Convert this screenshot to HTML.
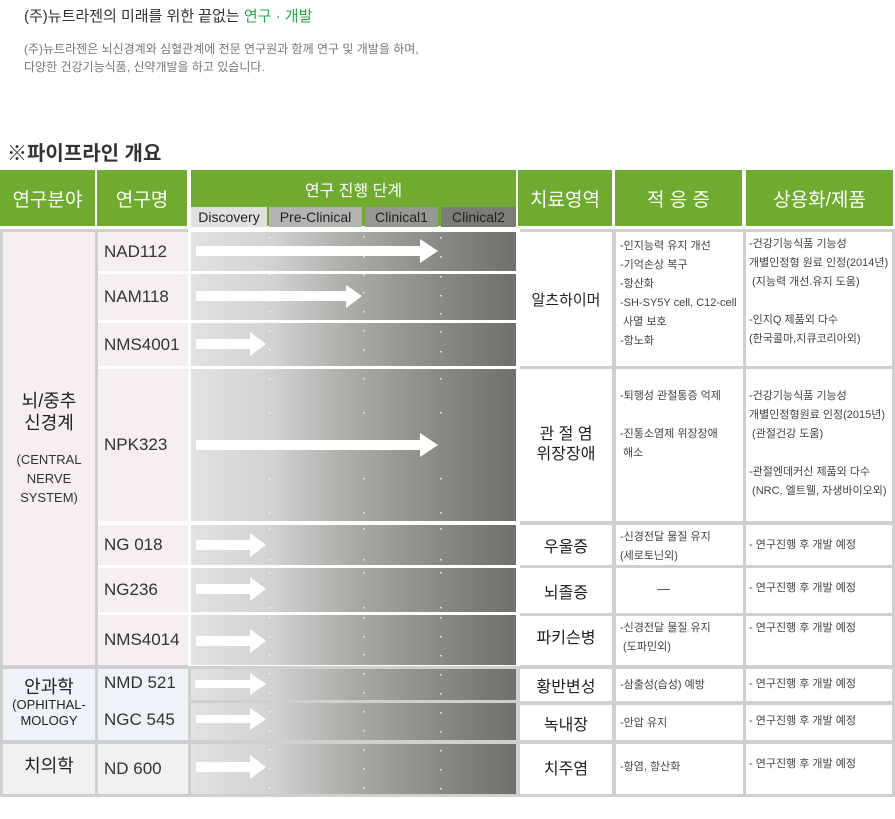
<!DOCTYPE html>
<html><head><meta charset="utf-8">
<style>
*{margin:0;padding:0;box-sizing:border-box}
body{width:895px;height:819px;background:#fff;position:relative;overflow:hidden;font-family:"Liberation Sans","Noto Sans CJK KR","NanumGothic",sans-serif;color:#333}
.a{position:absolute}
.c{position:absolute;display:flex;align-items:center;justify-content:center;text-align:center}
.g{background:#6eab2e;color:#fff;font-size:19px}
.sub{font-size:14px;color:#222}
.nm{font-size:17px;color:#333;justify-content:flex-start;padding-left:6px}
.pk{background:#f6eeef}
.bl{background:#eef3fa}
.gr{background:#f1f1f1}
.w{background:#fff}
.d{font-size:18px;color:#222}
.t{position:absolute;font-size:11px;line-height:19px;color:#444;white-space:nowrap}
.stage{position:absolute;left:191px;width:325px;background:linear-gradient(to right,#e2e2e2 0%,#d2d2d1 25%,#a9aaa6 50%,#8a8b86 75%,#6e706a 100%)}
.dot{position:absolute;width:2px;height:2px;background:#fff}
</style></head><body>
<div class="a" style="left:24px;top:5px;font-size:15px;color:#333">(주)뉴트라젠의 미래를 위한 끝없는 <span style="color:#1faa4a">연구 · 개발</span></div>
<div class="a" style="left:24px;top:40px;font-size:12px;line-height:18px;color:#777">(주)뉴트라젠은 뇌신경계와 심혈관계에 전문 연구원과 함께 연구 및 개발을 하며,<br>다양한 건강기능식품, 신약개발을 하고 있습니다.</div>
<div class="a" style="left:7px;top:137px;font-size:20px;font-weight:bold;color:#333">※파이프라인 개요</div>

<!-- header -->
<div class="c g" style="left:0;top:170px;width:95px;height:56px">연구분야</div>
<div class="c g" style="left:97px;top:170px;width:90px;height:56px">연구명</div>
<div class="c g" style="left:191px;top:170px;width:325px;height:37px;font-size:16px">연구 진행 단계</div>
<div class="a" style="left:191px;top:207px;width:325px;height:19px;background:#6eab2e"></div>
<div class="c sub" style="left:191px;top:207px;width:76px;height:20px;background:#e0e0e0">Discovery</div>
<div class="c sub" style="left:269px;top:207px;width:93px;height:20px;background:#b4b5b2">Pre-Clinical</div>
<div class="c sub" style="left:365px;top:207px;width:73px;height:20px;background:#979894">Clinical1</div>
<div class="c sub" style="left:441px;top:207px;width:75px;height:20px;background:#7b7c77">Clinical2</div>
<div class="c g" style="left:518px;top:170px;width:94px;height:56px">치료영역</div>
<div class="c g" style="left:615px;top:170px;width:127px;height:56px">적 응 증</div>
<div class="c g" style="left:746px;top:170px;width:147px;height:56px">상용화/제품</div>

<!-- body bg -->
<div class="a" style="left:0;top:229px;width:895px;height:568px;background:#cfcfcf"></div>

<!-- col1 -->
<div class="c pk d" style="left:3px;top:232px;width:92px;height:433px;flex-direction:column;line-height:22px">뇌/중추<br>신경계<div style="font-size:13px;line-height:19px;margin-top:16px;color:#333">(CENTRAL<br>NERVE<br>SYSTEM)</div></div>
<div class="c bl d" style="left:3px;top:669px;width:92px;height:71px;flex-direction:column;line-height:20px;padding-bottom:4px">안과학<div style="font-size:13px;line-height:16px">(OPHITHAL-<br>MOLOGY</div></div>
<div class="c gr d" style="left:3px;top:744px;width:92px;height:50px;padding-bottom:8px">치의학</div>

<!-- col2 -->
<div class="a" style="left:98px;top:232px;width:93px;height:433px;background:#fff"></div>
<div class="c pk nm" style="left:98px;top:232px;width:90px;height:39px">NAD112</div>
<div class="c pk nm" style="left:98px;top:274px;width:90px;height:46px">NAM118</div>
<div class="c pk nm" style="left:98px;top:323px;width:90px;height:43px">NMS4001</div>
<div class="c pk nm" style="left:98px;top:369px;width:90px;height:152px">NPK323</div>
<div class="c pk nm" style="left:98px;top:525px;width:90px;height:40px">NG 018</div>
<div class="c pk nm" style="left:98px;top:568px;width:90px;height:44px">NG236</div>
<div class="c pk nm" style="left:98px;top:615px;width:90px;height:50px">NMS4014</div>
<div class="c bl nm" style="left:98px;top:669px;width:90px;height:71px"></div>
<div class="a" style="left:104px;top:673px;font-size:17px">NMD 521</div>
<div class="a" style="left:104px;top:710px;font-size:17px">NGC 545</div>
<div class="c gr nm" style="left:98px;top:744px;width:90px;height:50px">ND 600</div>

<!-- col3 stages -->
<div class="a" style="left:188px;top:229px;width:332px;height:437px;background:#fff"></div>
<div class="stage" style="top:232px;height:39px"></div>
<div class="stage" style="top:274px;height:46px"></div>
<div class="stage" style="top:323px;height:43px"></div>
<div class="stage" style="top:369px;height:152px"></div>
<div class="stage" style="top:525px;height:40px"></div>
<div class="stage" style="top:568px;height:44px"></div>
<div class="stage" style="top:615px;height:50px"></div>
<div class="stage" style="top:669px;height:31px"></div>
<div class="stage" style="top:703px;height:37px"></div>
<div class="stage" style="top:744px;height:50px"></div>

<svg class="a" style="left:0;top:0" width="895" height="819">
<g fill="#fff">
<polygon points="196,246 420,246 420,239 438,251 420,263 420,256 196,256"/>
<polygon points="196,291 346,291 346,285 362,296 346,308 346,301 196,301"/>
<polygon points="196,339 250,339 250,332 266,344 250,356 250,349 196,349"/>
<polygon points="196,440 420,440 420,433 438,445 420,457 420,450 196,450"/>
<polygon points="196,540 250,540 250,533 266,545 250,557 250,550 196,550"/>
<polygon points="196,584 250,584 250,577 266,589 250,601 250,594 196,594"/>
<polygon points="196,636 250,636 250,629 266,641 250,653 250,646 196,646"/>
<polygon points="195,680 250,680 250,673 266,684 250,695 250,688 195,688"/>
<polygon points="196,715 250,715 250,708 266,719 250,730 250,723 196,723"/>
<polygon points="196,762 250,762 250,755 266,767 250,779 250,772 196,772"/>
</g>
<g fill="#fff" opacity="0.85">
<rect x="269" y="237" width="1.5" height="1.5"/><rect x="363" y="236" width="1.5" height="1.5"/><rect x="440" y="237" width="1.5" height="1.5"/>
<rect x="363" y="256" width="1.5" height="1.5"/><rect x="440" y="256" width="1.5" height="1.5"/>
<rect x="269" y="274" width="1.5" height="1.5"/><rect x="363" y="274" width="1.5" height="1.5"/><rect x="440" y="276" width="1.5" height="1.5"/>
<rect x="363" y="292" width="1.5" height="1.5"/><rect x="440" y="295" width="1.5" height="1.5"/>
<rect x="269" y="311" width="1.5" height="1.5"/><rect x="363" y="311" width="1.5" height="1.5"/><rect x="440" y="313" width="1.5" height="1.5"/>
<rect x="269" y="330" width="1.5" height="1.5"/><rect x="363" y="330" width="1.5" height="1.5"/><rect x="440" y="331" width="1.5" height="1.5"/>
<rect x="269" y="349" width="1.5" height="1.5"/><rect x="363" y="349" width="1.5" height="1.5"/><rect x="440" y="351" width="1.5" height="1.5"/>
<rect x="269" y="378" width="1.5" height="1.5"/><rect x="363" y="378" width="1.5" height="1.5"/><rect x="440" y="378" width="1.5" height="1.5"/>
<rect x="269" y="412" width="1.5" height="1.5"/><rect x="363" y="412" width="1.5" height="1.5"/><rect x="440" y="412" width="1.5" height="1.5"/>
<rect x="269" y="478" width="1.5" height="1.5"/><rect x="363" y="478" width="1.5" height="1.5"/><rect x="440" y="478" width="1.5" height="1.5"/>
<rect x="269" y="512" width="1.5" height="1.5"/><rect x="363" y="512" width="1.5" height="1.5"/><rect x="440" y="512" width="1.5" height="1.5"/>
<rect x="269" y="528" width="1.5" height="1.5"/><rect x="363" y="528" width="1.5" height="1.5"/><rect x="440" y="528" width="1.5" height="1.5"/>
<rect x="269" y="559" width="1.5" height="1.5"/><rect x="363" y="559" width="1.5" height="1.5"/><rect x="440" y="559" width="1.5" height="1.5"/>
<rect x="269" y="572" width="1.5" height="1.5"/><rect x="363" y="572" width="1.5" height="1.5"/><rect x="440" y="572" width="1.5" height="1.5"/>
<rect x="269" y="607" width="1.5" height="1.5"/><rect x="363" y="607" width="1.5" height="1.5"/><rect x="440" y="607" width="1.5" height="1.5"/>
<rect x="269" y="617" width="1.5" height="1.5"/><rect x="363" y="617" width="1.5" height="1.5"/><rect x="440" y="617" width="1.5" height="1.5"/>
<rect x="269" y="636" width="1.5" height="1.5"/><rect x="363" y="636" width="1.5" height="1.5"/><rect x="440" y="636" width="1.5" height="1.5"/>
<rect x="269" y="654" width="1.5" height="1.5"/><rect x="363" y="654" width="1.5" height="1.5"/><rect x="440" y="655" width="1.5" height="1.5"/>
<rect x="269" y="673" width="1.5" height="1.5"/><rect x="363" y="673" width="1.5" height="1.5"/><rect x="440" y="674" width="1.5" height="1.5"/>
<rect x="269" y="692" width="1.5" height="1.5"/><rect x="363" y="692" width="1.5" height="1.5"/><rect x="440" y="693" width="1.5" height="1.5"/>
<rect x="269" y="711" width="1.5" height="1.5"/><rect x="363" y="711" width="1.5" height="1.5"/><rect x="440" y="712" width="1.5" height="1.5"/>
<rect x="269" y="730" width="1.5" height="1.5"/><rect x="363" y="730" width="1.5" height="1.5"/><rect x="440" y="731" width="1.5" height="1.5"/>
<rect x="269" y="749" width="1.5" height="1.5"/><rect x="363" y="749" width="1.5" height="1.5"/><rect x="440" y="750" width="1.5" height="1.5"/>
<rect x="269" y="768" width="1.5" height="1.5"/><rect x="363" y="768" width="1.5" height="1.5"/><rect x="440" y="769" width="1.5" height="1.5"/>
<rect x="269" y="787" width="1.5" height="1.5"/><rect x="363" y="787" width="1.5" height="1.5"/><rect x="440" y="788" width="1.5" height="1.5"/>
</g>
</svg>

<!-- col4 -->
<div class="c w d" style="left:520px;top:232px;width:92px;height:134px;font-size:15px">알츠하이머</div>
<div class="c w d" style="left:520px;top:369px;width:92px;height:152px;font-size:16px;line-height:20px">관 절 염<br>위장장애</div>
<div class="c w d" style="left:520px;top:525px;width:92px;height:40px;font-size:16px">우울증</div>
<div class="c w d" style="left:520px;top:568px;width:92px;height:45px;font-size:16px">뇌졸증</div>
<div class="c w d" style="left:520px;top:616px;width:92px;height:49px;font-size:16px;align-items:flex-start;padding-top:8px">파키슨병</div>
<div class="c w d" style="left:520px;top:669px;width:92px;height:32px;font-size:16px">황반변성</div>
<div class="c w d" style="left:520px;top:705px;width:92px;height:35px;font-size:16px">녹내장</div>
<div class="c w d" style="left:520px;top:744px;width:92px;height:50px;font-size:16px;padding-bottom:4px">치주염</div>

<!-- col5 -->
<div class="a w" style="left:616px;top:232px;width:127px;height:134px"></div>
<div class="a w" style="left:616px;top:369px;width:127px;height:152px"></div>
<div class="a w" style="left:616px;top:525px;width:127px;height:40px"></div>
<div class="a w" style="left:616px;top:568px;width:127px;height:45px"></div>
<div class="a w" style="left:616px;top:616px;width:127px;height:49px"></div>
<div class="a w" style="left:616px;top:669px;width:127px;height:32px"></div>
<div class="a w" style="left:616px;top:705px;width:127px;height:35px"></div>
<div class="a w" style="left:616px;top:744px;width:127px;height:50px"></div>
<div class="t" style="left:620px;top:237px">-인지능력 유지 개선<br>-기억손상 복구<br>-항산화<br>-SH-SY5Y cell, C12-cell<br>&nbsp;사멸 보호<br>-항노화</div>
<div class="t" style="left:620px;top:387px">-퇴행성 관절통증 억제<br><br>-진통소염제 위장장애<br>&nbsp;해소</div>
<div class="t" style="left:620px;top:528px">-신경전달 물질 유지<br>(세로토닌외)</div>
<div class="t" style="left:657px;top:579px;font-size:13px">—</div>
<div class="t" style="left:620px;top:619px">-신경전달 물질 유지<br>&nbsp;(도파민외)</div>
<div class="t" style="left:620px;top:676px">-삼출성(습성) 예방</div>
<div class="t" style="left:620px;top:714px">-안압 유지</div>
<div class="t" style="left:620px;top:758px">-항염, 항산화</div>

<!-- col6 -->
<div class="a w" style="left:746px;top:232px;width:146px;height:134px"></div>
<div class="a w" style="left:746px;top:369px;width:146px;height:152px"></div>
<div class="a w" style="left:746px;top:525px;width:146px;height:40px"></div>
<div class="a w" style="left:746px;top:568px;width:146px;height:45px"></div>
<div class="a w" style="left:746px;top:616px;width:146px;height:49px"></div>
<div class="a w" style="left:746px;top:669px;width:146px;height:32px"></div>
<div class="a w" style="left:746px;top:705px;width:146px;height:35px"></div>
<div class="a w" style="left:746px;top:744px;width:146px;height:50px"></div>
<div class="t" style="left:749px;top:235px">-건강기능식품 기능성<br>개별인정형 원료 인정(2014년)<br>&nbsp;(지능력 개선.유지 도움)<br><br>-인지Q 제품외 다수<br>(한국콜마,지큐코리아외)</div>
<div class="t" style="left:749px;top:387px">-건강기능식품 기능성<br>개별인정형원료 인정(2015년)<br>&nbsp;(관절건강 도움)<br><br>-관절엔데커신 제품외 다수<br>&nbsp;(NRC, 엘트웰, 자생바이오외)</div>
<div class="t" style="left:749px;top:536px">- 연구진행 후 개발 예정</div>
<div class="t" style="left:749px;top:579px">- 연구진행 후 개발 예정</div>
<div class="t" style="left:749px;top:619px">- 연구진행 후 개발 예정</div>
<div class="t" style="left:749px;top:675px">- 연구진행 후 개발 예정</div>
<div class="t" style="left:749px;top:712px">- 연구진행 후 개발 예정</div>
<div class="t" style="left:749px;top:755px">- 연구진행 후 개발 예정</div>
</body></html>
